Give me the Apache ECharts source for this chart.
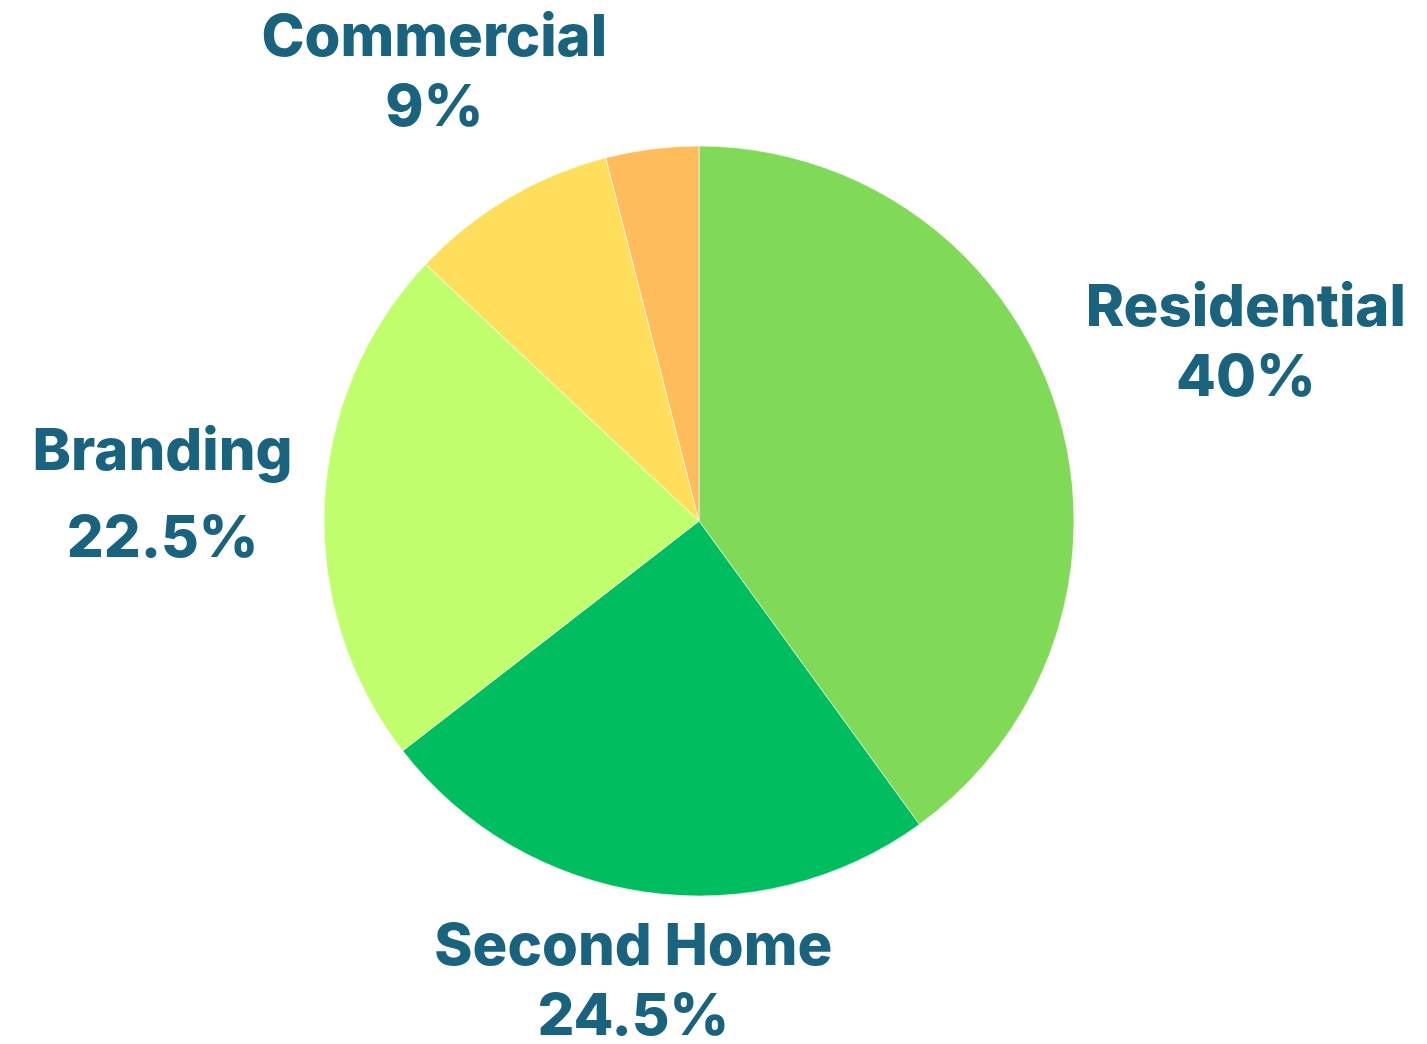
<!DOCTYPE html>
<html>
<head>
<meta charset="utf-8">
<title>Revenue mix</title>
<script src="https://cdn.jsdelivr.net/npm/echarts@6/dist/echarts.min.js"></script>
<style>
  html, body { margin: 0; padding: 0; background: #ffffff; }
  #chart { width: 1427px; height: 1044px; }
</style>
</head>
<body>
<div id="chart"></div>
<script>
// Segment names, shares (%) and fills, clockwise from 12 o'clock
const categories = ['Residential', 'Second Home', 'Branding', 'Commercial', 'Other'];
const shares = [40, 24.5, 22.5, 9, 4];
const colors = ['#80d957', '#00be5f', '#c1fe6e', '#ffde5c', '#ffbc5c'];
const showLabel = [true, true, true, true, false];

// How far each label sits beyond the rim, and its line spacing
const labelOffsets = [200, 91, 162, 145, 0];
const labelLineHeights = [70, 70, 87, 70, 70];

const chart = echarts.init(document.getElementById('chart'), null, { renderer: 'canvas' });

const data = categories.map((name, i) => ({
  name: name,
  value: shares[i],
  itemStyle: { color: colors[i] },
  label: { show: showLabel[i], lineHeight: labelLineHeights[i] },
  labelLine: { show: false, length: labelOffsets[i], length2: 0 }
}));

chart.setOption({
  animation: false,
  backgroundColor: '#ffffff',
  series: [{
    type: 'pie',
    center: [699, 521],
    radius: 375,
    startAngle: 90,
    clockwise: true,
    avoidLabelOverlap: false,
    itemStyle: { borderColor: '#ffffff', borderWidth: 0.6 },
    label: {
      position: 'outside',
      distanceToLabelLine: 0,
      formatter: '{b}\n{c}%',
      color: '#19637e',
      fontFamily: 'Inter',
      fontWeight: 800,
      fontSize: 58,
      lineHeight: 70
    },
    labelLine: { show: false },
    labelLayout: { align: 'center', verticalAlign: 'middle' },
    emphasis: { disabled: true },
    data: data
  }]
});
</script>
</body>
</html>
